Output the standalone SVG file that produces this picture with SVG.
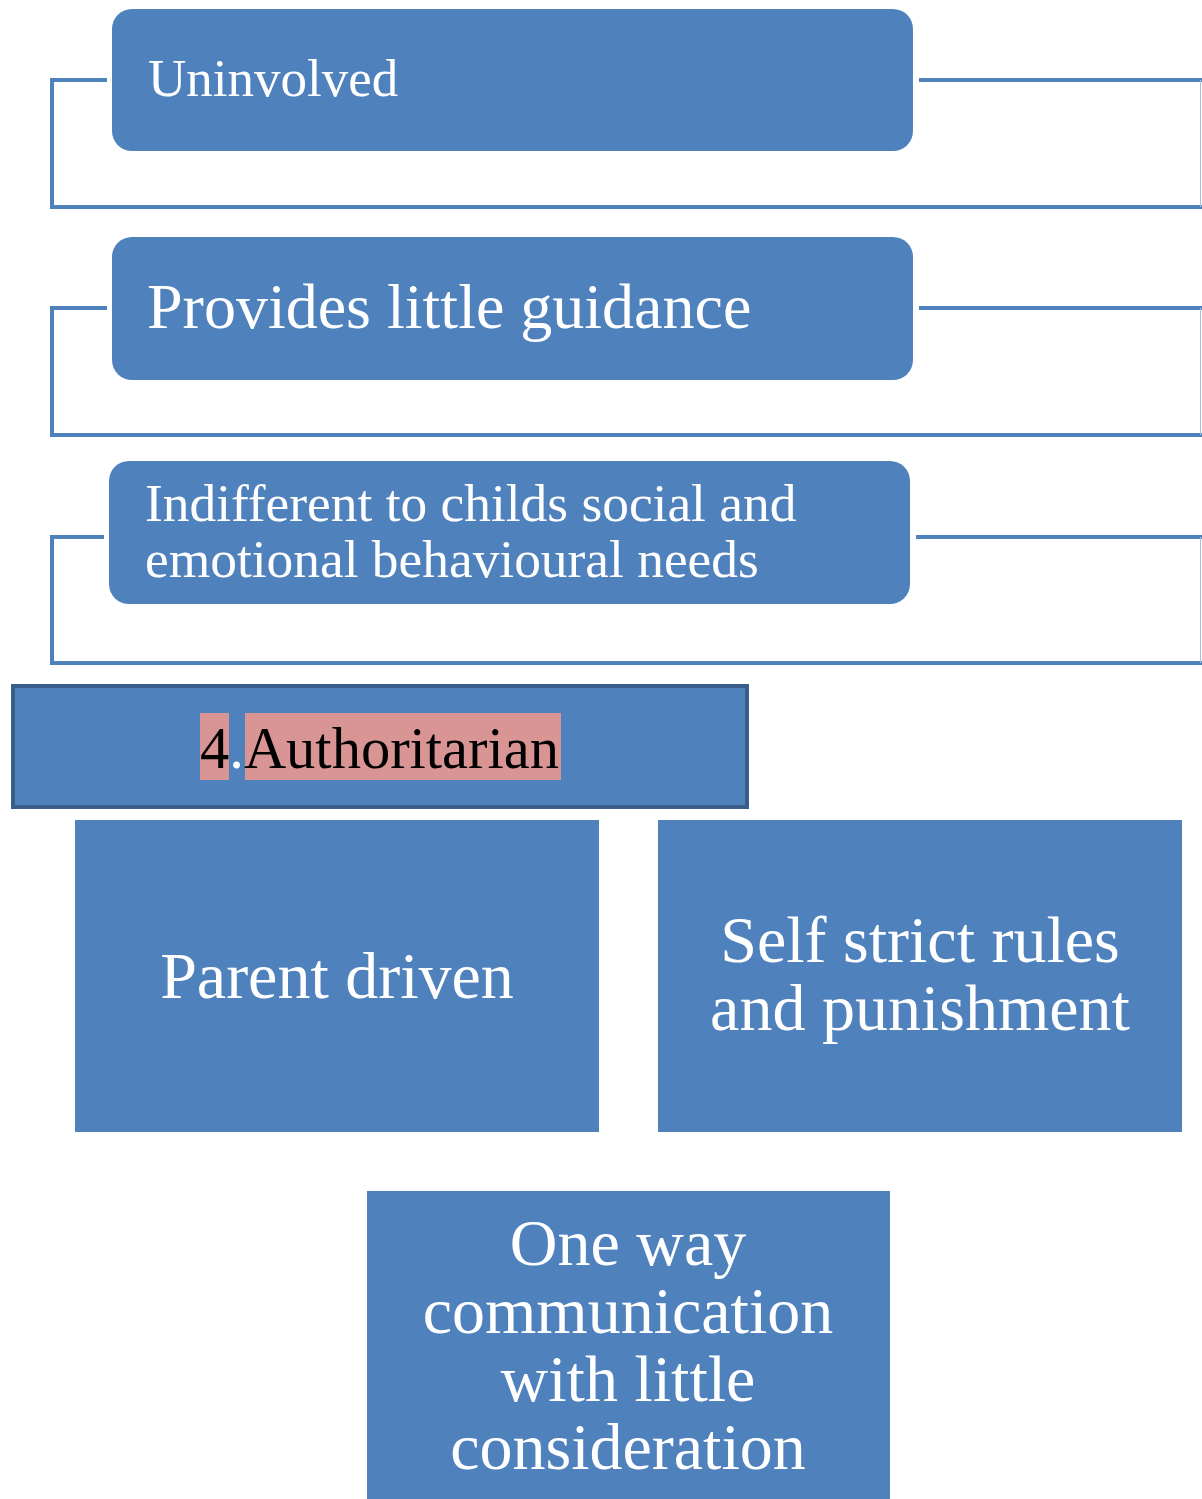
<svg xmlns="http://www.w3.org/2000/svg" width="1202" height="1499" viewBox="0 0 1202 1499">
<style>
.box{fill:#4f81bd}
.conn{fill:none;stroke:#4f81bd;stroke-width:4}
.t{font-family:"Liberation Serif","Times New Roman",serif;fill:#ffffff}
.c{text-anchor:middle}
</style>
<rect width="1202" height="1499" fill="#ffffff"/>
<g id="connectors">
<path class="conn" d="M107,80 H52 V207 H1204"/>
<path class="conn" d="M919,80 H1204"/>
<path class="conn" d="M107,308 H52 V435 H1204"/>
<path class="conn" d="M919,308 H1204"/>
<path class="conn" d="M104,537 H52 V663 H1204"/>
<path class="conn" d="M916,537 H1204"/>
<line x1="1200.5" y1="80" x2="1200.5" y2="207" stroke="#a9c0de" stroke-width="1"/>
<line x1="1200.5" y1="308" x2="1200.5" y2="435" stroke="#a9c0de" stroke-width="1"/>
<line x1="1200.5" y1="537" x2="1200.5" y2="663" stroke="#a9c0de" stroke-width="1"/>
</g>
<g id="uninvolved">
<rect class="box" x="112" y="9" width="801" height="142" rx="20"/>
<text class="t" x="148" y="96" font-size="53">Uninvolved</text>
</g>
<g id="guidance">
<rect class="box" x="112" y="237" width="801" height="143" rx="20"/>
<text class="t" x="147" y="328" font-size="64">Provides little guidance</text>
</g>
<g id="indifferent">
<rect class="box" x="109" y="461" width="801" height="143" rx="20"/>
<text class="t" x="145" y="521" font-size="53.4">Indifferent to childs social and</text>
<text class="t" x="145" y="577" font-size="53.4">emotional behavioural needs</text>
</g>
<g id="authoritarian">
<rect x="13" y="686" width="734" height="121" fill="#4f81bd" stroke="#385d8a" stroke-width="4"/>
<rect x="200" y="713" width="29" height="67" fill="#d99594"/>
<rect x="245" y="713" width="316" height="67" fill="#d99594"/>
<text class="t" x="200" y="768" font-size="58.5"><tspan fill="#000000">4</tspan><tspan fill="#ffffff">.</tspan><tspan fill="#000000">Authoritarian</tspan></text>
</g>
<g id="parent-driven">
<rect class="box" x="75" y="820" width="524" height="312"/>
<text class="t c" x="337" y="998" font-size="66">Parent driven</text>
</g>
<g id="strict-rules">
<rect class="box" x="658" y="820" width="524" height="312"/>
<text class="t c" x="920" y="962" font-size="66">Self strict rules</text>
<text class="t c" x="920" y="1030" font-size="66">and punishment</text>
</g>
<g id="one-way">
<rect class="box" x="367" y="1191" width="523" height="310"/>
<text class="t c" x="628" y="1265" font-size="66">One way</text>
<text class="t c" x="628" y="1333" font-size="66">communication</text>
<text class="t c" x="628" y="1401" font-size="66">with little</text>
<text class="t c" x="628" y="1469" font-size="66">consideration</text>
</g>
</svg>
